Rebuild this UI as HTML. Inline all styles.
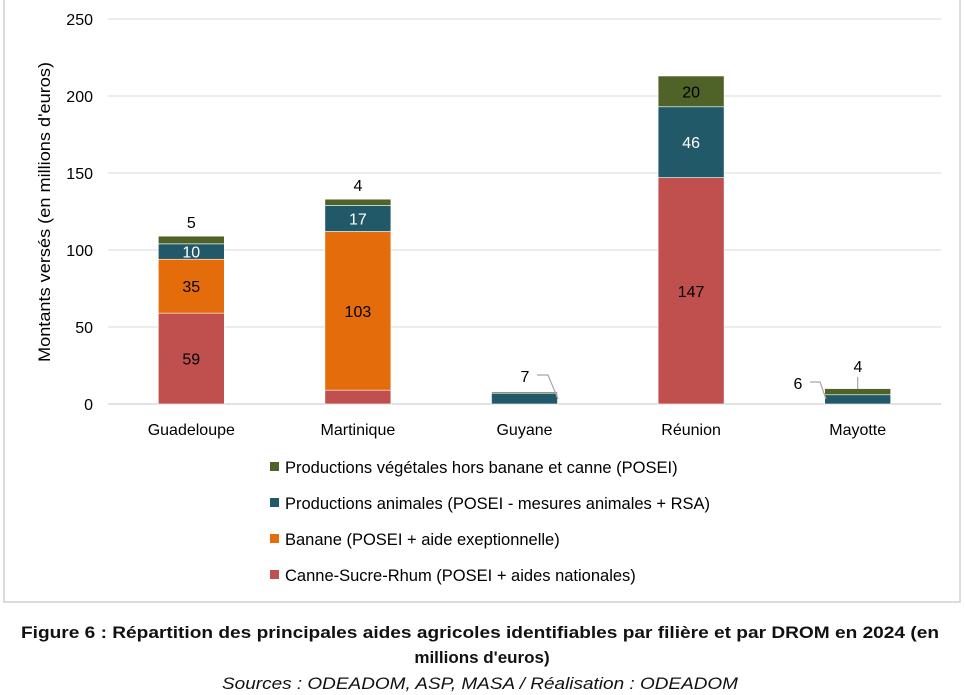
<!DOCTYPE html>
<html><head><meta charset="utf-8"><style>
body{margin:0;background:#fff;width:965px;height:695px;overflow:hidden;font-family:"Liberation Sans",sans-serif}
svg{position:absolute;left:0;top:0}
</style></head><body>
<svg width="965" height="695" id="chart">
<rect x="4" y="-2" width="956" height="604" fill="#fff" stroke="#d0d0d0" stroke-width="1.5"/>
<text x="50" y="212" transform="rotate(-90 50 212)" text-anchor="middle" font-size="17" fill="#000" textLength="300" lengthAdjust="spacingAndGlyphs">Montants versés (en millions d'euros)</text>
<g id="grid"></g><g id="bars"></g><g id="labels"></g><g id="legend"></g>
<text x="480" y="638" text-anchor="middle" font-size="17" font-weight="bold" fill="#111" textLength="918" lengthAdjust="spacingAndGlyphs">Figure 6 : Répartition des principales aides agricoles identifiables par filière et par DROM en 2024 (en</text>
<text x="482" y="663" text-anchor="middle" font-size="17" font-weight="bold" fill="#111">millions d'euros)</text>
<text x="480" y="689" text-anchor="middle" font-size="17" font-style="italic" fill="#111" textLength="516" lengthAdjust="spacingAndGlyphs">Sources : ODEADOM, ASP, MASA / Réalisation : ODEADOM</text>
</svg>
<script>
const categories=["Guadeloupe","Martinique","Guyane","Réunion","Mayotte"];
const canne=[59,9,0,147,0];
const banane=[35,103,0,0,0];
const animales=[10,17,7,46,6];
const vegetales=[5,4,0.8,20,4];
const yTicks=[0,50,100,150,200,250];
const seriesNames=["Canne-Sucre-Rhum (POSEI + aides nationales)","Banane (POSEI + aide exeptionnelle)","Productions animales (POSEI - mesures animales + RSA)","Productions végétales hors banane et canne (POSEI)"];
const colors=["#c0504d","#e46c0a","#215968","#4f6228"];
const NS="http://www.w3.org/2000/svg";
const x0=108,x1=941,yb=404,yt=19;
const y=v=>yb-v/250*(yb-yt);
const bw=(x1-x0)/categories.length;
const cx=i=>x0+bw*(i+0.5);
function el(t,a,p){const e=document.createElementNS(NS,t);for(const k in a)e.setAttribute(k,a[k]);document.getElementById(p).appendChild(e);return e;}
yTicks.forEach(t=>{
 const l=el("line",{x1:x0,x2:x1,y1:y(t),y2:y(t),stroke:"#d9d9d9","stroke-width":t===0?1.5:1},"grid");
 
 
 const tx=el("text",{x:93,y:y(t)+6,"text-anchor":"end","font-size":16,fill:"#000"},"grid");tx.textContent=t;
 
 
});
const series=[canne,banane,animales,vegetales];
categories.forEach((c,i)=>{
 const t=el("text",{x:cx(i),y:435,"text-anchor":"middle","font-size":16,fill:"#000"},"labels");t.textContent=c;
 
 
 let acc=0;
 series.forEach((s,k)=>{
  const v=s[i];if(!v)return;
  const r=el("rect",{x:cx(i)-33,y:y(acc+v),width:66,height:y(acc)-y(acc+v),fill:colors[k],stroke:"#fff","stroke-width":0.6},"bars");
  
  
  const mid=(y(acc)+y(acc+v))/2;
  if(y(acc)-y(acc+v)>14){
   const tl=el("text",{x:cx(i),y:mid+6,"text-anchor":"middle","font-size":16,fill:k===2?"#fff":"#000"},"labels");tl.textContent=Math.round(v);
   
   
  }
  acc+=v;
 });
});
function ext(txt,tx,ty,pts,name){
 if(pts)el("polyline",{points:pts,fill:"none",stroke:"#a6a6a6","stroke-width":1.2},"labels");
 const t=el("text",{x:tx,y:ty,"text-anchor":"middle","font-size":16,fill:"#000"},"labels");t.textContent=txt;
 
 
}
ext(Math.round(vegetales[0]),cx(0),228,"","value-label-veg-0");
ext(Math.round(vegetales[1]),cx(1),191,"","value-label-veg-1");
ext(animales[2],525,382,"537,375 548,375 558,399","value-label-anim-2");
ext(animales[4],798,389,"810,382 820,382 826,399","value-label-anim-4");
ext(vegetales[4],858,372,cx(4)+","+377+" "+cx(4)+","+389,"value-label-veg-4");
[3,2,1,0].forEach((k,j)=>{
 const yy=468+j*36;
 const r=el("rect",{x:270,y:yy-6,width:9,height:9,fill:colors[k]},"legend");
 
 
 const t=el("text",{x:285,y:yy+5,"font-size":16.5,fill:"#000"},"legend");t.textContent=seriesNames[k];
 
 
});
</script>
</body></html>
